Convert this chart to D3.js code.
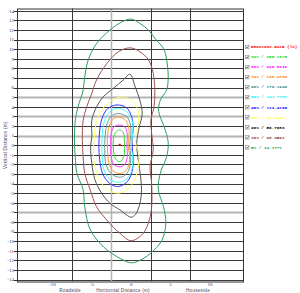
<!DOCTYPE html>
<html>
<head>
<meta charset="utf-8">
<script src="https://cdn.jsdelivr.net/npm/d3@7"></script>
<style>
	body { margin: 0; background: #fff; }
	svg { display: block; }
</style>
</head>
<body>
<div id="isolux-chart"></div>
<script>
//Tick values for both axis
var yTicks = d3.range(-14, 15);
var xTicks = [-10, -5, 0, 5, 10];
var xGrid = [-7.5, -2.5, 2.5, 7.5];
var greyRows = [5, 3, 1, -7];
var greyCols = [-2.5];

//Legend labels, top to bottom
var legendLabels = ["Emax=283.5415 (lx)", "90% / 255.1875", "80% / 226.8332", "70% / 198.4790",
	"60% / 170.1240", "50% / 141.7707", "40% / 113.4166", "30% / 85.0624",
	"20% / 56.7083", "10% / 28.3541", "5% / 14.1771"];
var legendColors = ["#ff0000", "#22dd22", "#ff00ff", "#ff8000", "#407f7f", "#22eeee",
	"#0000ff", "#ffff40", "#000000", "#993333", "#1f9a4a"];

//Point of max illuminance
var emaxPoint = [-1.45, 0.05];

//Isolux lines, outer to inner [x, y] in metres
var iso5 = [[0,13.15],[1.1,12.7],[2.2,12.0],[3.2,10.95],[4.1,10.1],[4.5,8.9],[4.7,7.1],[4.5,5.75],
	[3.7,4.7],[3.5,3.5],[4.2,1.9],[4.7,0.3],[4.5,-1.2],[3.7,-2.9],[3.45,-4.65],[4.1,-6.4],[4.4,-8.1],
	[3.9,-9.9],[2.4,-11.3],[1.1,-12.0],[0,-12.25],[-1.4,-11.8],[-3.5,-10.6],[-5.2,-8.8],[-5.9,-6.4],
	[-6.1,-4.65],[-6.9,-2.9],[-7.1,-1.2],[-7.2,0.3],[-7.1,2.6],[-6.75,4.0],[-6.1,5.75],[-5.9,7.1],
	[-5.45,8.9],[-4.4,10.6],[-2.7,12.0],[-1.2,12.85]];
var iso10 = [[-0.15,10.15],[1.1,9.75],[2.2,8.9],[2.8,7.5],[3.0,5.75],[2.9,4.0],[2.5,2.6],[2.6,1.25],
	[2.8,-0.5],[2.4,-2.25],[2.6,-4.0],[2.6,-6.4],[2.3,-7.8],[1.5,-9.2],[0,-9.95],[-1.4,-9.2],[-3.1,-7.8],
	[-4.4,-6.4],[-5.2,-4.65],[-5.9,-2.9],[-6.1,-1.2],[-6.2,0.5],[-6.1,2.6],[-5.65,4.0],[-5.0,5.4],
	[-4.4,6.8],[-3.1,8.5],[-1.6,9.75]];
var iso20 = [[-0.15,7.4],[0.5,6.1],[1.1,4.7],[1.4,3.3],[1.0,1.8],[0.7,0.2],[0.9,-1.55],[1.2,-3.3],
	[1.3,-5.0],[1.0,-6.4],[0.5,-7.25],[0,-7.5],[-1.4,-6.75],[-2.7,-6.05],[-3.75,-5.0],[-4.6,-3.6],
	[-5.0,-1.9],[-5.15,-0.15],[-5.0,0.9],[-5.0,2.6],[-4.4,4.0],[-3.55,5.05],[-2.3,5.9],[-1.0,6.8]];
var iso30 = [[-1.4,5.0],[-0.3,4.85],[0.5,4.3],[0.9,3.5],[0.9,2.3],[0.6,1.2],[0.6,0],[1.0,-0.8],
	[0.9,-2.2],[0.5,-3.5],[-0.5,-4.6],[-1.6,-5.0],[-2.9,-4.7],[-3.9,-3.8],[-4.5,-2.6],[-4.8,-1],
	[-4.7,0.5],[-4.5,2.2],[-3.8,3.6],[-2.6,4.6]];
var iso40 = [[-1.8,4.2],[-0.6,3.9],[0.05,3.0],[0.25,1.7],[0.1,0.5],[0.2,-0.8],[0.2,-2.4],[-0.4,-3.7],
	[-1.6,-4.3],[-2.7,-4.0],[-3.6,-3.0],[-4.0,-1.5],[-4.1,0],[-4.0,1.5],[-3.7,2.8],[-3.0,3.8]];
var iso50 = [[-1.7,3.85],[-0.6,3.5],[0.1,2.6],[0.2,1.2],[0.0,0],[0.2,-1.5],[-0.1,-3.0],[-0.9,-3.7],
	[-1.8,-3.85],[-2.8,-3.5],[-3.5,-2.5],[-3.7,-1],[-3.7,0.8],[-3.4,2.5],[-2.7,3.5]];
var iso60 = [[-1.6,3.3],[-0.6,3.0],[-0.1,2.2],[-0.05,1.0],[-0.2,0],[-0.05,-1.2],[-0.3,-2.6],[-1.0,-3.25],
	[-1.8,-3.3],[-2.6,-2.9],[-3.2,-2.0],[-3.35,-0.8],[-3.3,1.0],[-3.0,2.4],[-2.4,3.1]];
var iso70 = [[-1.6,2.95],[-0.7,2.6],[-0.3,1.8],[-0.3,0.8],[-0.4,0],[-0.2,-1.2],[-0.4,-2.3],[-1.0,-2.85],
	[-1.8,-2.9],[-2.5,-2.5],[-2.9,-1.6],[-3.0,-0.5],[-3.0,1.0],[-2.7,2.2],[-2.2,2.8]];
var iso80 = [[-1.5,2.1],[-0.8,1.9],[-0.5,1.2],[-0.55,0],[-0.5,-1.2],[-0.8,-2.0],[-1.5,-2.25],[-2.2,-2.0],
	[-2.55,-1.2],[-2.6,0],[-2.55,1.2],[-2.2,1.9]];
var iso90 = [[-1.5,1.6],[-1.0,1.3],[-0.85,0.3],[-0.9,-1.0],[-1.2,-1.6],[-1.6,-1.7],[-2.0,-1.4],
	[-2.25,-0.5],[-2.25,0.6],[-2.0,1.3]];

var isoLines = [iso5, iso10, iso20, iso30, iso40, iso50, iso60, iso70, iso80, iso90];
var isoColors = ["#2e9e5e", "#a05252", "#555555", "#ffff70", "#3333ff", "#44ffff", "#6f9a9a",
	"#ff9933", "#ff44ff", "#33dd33"];

var svg = d3.select("#isolux-chart")
	.append("svg")
	.attr("width", 300)
	.attr("height", 293);

//Plot area bounds
var x = d3.scaleLinear()
	.domain([-14.5, 14.2])
	.range([17, 243]);

var y = d3.scaleLinear()
	.domain([-14.2, 14.25])
	.range([281.5, 8.5]);

//Grid rows
svg.selectAll(".gridRow")
	.data(yTicks)
	.enter()
	.append("line")
	.attr("class", "gridRow")
	.attr("x1", x.range()[0])
	.attr("x2", x.range()[1])
	.attr("y1", function(d){ return Math.round(y(d)) + 0.5 })
	.attr("y2", function(d){ return Math.round(y(d)) + 0.5 })
	.attr("stroke", function(d){ return greyRows.includes(d) ? "#b4b4b4" : "#3a3a3a" })
	.attr("stroke-width", function(d){ return greyRows.includes(d) ? 2 : 1 });

//Grid columns
svg.selectAll(".gridCol")
	.data(xGrid)
	.enter()
	.append("line")
	.attr("class", "gridCol")
	.attr("y1", y.range()[0])
	.attr("y2", y.range()[1])
	.attr("x1", function(d){ return Math.round(x(d)) + 0.5 })
	.attr("x2", function(d){ return Math.round(x(d)) + 0.5 })
	.attr("stroke", function(d){ return greyCols.includes(d) ? "#b4b4b4" : "#3a3a3a" })
	.attr("stroke-width", function(d){ return greyCols.includes(d) ? 1.5 : 1 });

//Frame
svg.append("rect")
	.attr("x", x.range()[0] + 0.5)
	.attr("y", y.range()[1] + 0.5)
	.attr("width", x.range()[1] - x.range()[0])
	.attr("height", y.range()[0] - y.range()[1])
	.attr("fill", "none")
	.attr("stroke", "#333")
	.attr("stroke-width", 1);

//Y axis ticks and labels
svg.selectAll(".yTick")
	.data(yTicks)
	.enter()
	.append("line")
	.attr("class", "yTick")
	.attr("x1", x.range()[0] - 3)
	.attr("x2", x.range()[0])
	.attr("y1", function(d){ return Math.round(y(d)) + 0.5 })
	.attr("y2", function(d){ return Math.round(y(d)) + 0.5 })
	.attr("stroke", "#333");

svg.selectAll(".yLabel")
	.data(yTicks)
	.enter()
	.append("text")
	.attr("class", "yLabel")
	.attr("x", x.range()[0] - 3)
	.attr("y", function(d){ return y(d) })
	.attr("dy", "0.35em")
	.style("text-anchor", "end")
	.style("font-family", "Liberation Serif")
	.style("font-size", "5px")
	.style("fill", "#333366")
	.text(function(d){ return d });

//X axis labels
svg.selectAll(".xLabel")
	.data(xTicks)
	.enter()
	.append("text")
	.attr("class", "xLabel")
	.attr("x", function(d){ return x(d) })
	.attr("y", 285.5)
	.style("text-anchor", "middle")
	.style("font-family", "Liberation Serif")
	.style("font-size", "5px")
	.style("fill", "#333366")
	.text(function(d){ return d });

//Axis titles
var titleStyle = function(sel)
{
	sel.style("font-family", "Liberation Sans")
		.style("font-size", "4.6px")
		.style("letter-spacing", "0.25px")
		.style("fill", "#444466")
		.style("text-anchor", "middle");
};

svg.append("text").attr("x", 70).attr("y", 292).call(titleStyle).text("Roadside");
svg.append("text").attr("x", 123).attr("y", 292).call(titleStyle).text("Horizontal Distance (m)");
svg.append("text").attr("x", 198).attr("y", 292).call(titleStyle).text("Houseside");
svg.append("text")
	.attr("transform", "translate(7," + y(0) + ") rotate(-90)")
	.call(titleStyle)
	.text("Vertical Distance (m)");

//Isolux lines
var line = d3.line()
	.x(function(d){ return x(d[0]) })
	.y(function(d){ return y(d[1]) })
	.curve(d3.curveCatmullRomClosed.alpha(0.5));

for(var i = 0; i < isoLines.length; i++)
{
	svg.append("path")
		.datum(isoLines[i])
		.attr("class", "isoLine")
		.attr("fill", "none")
		.attr("stroke", isoColors[i])
		.attr("stroke-width", 1)
		.attr("d", line);
}

//Max point
svg.append("rect")
	.attr("x", x(emaxPoint[0]) - 1)
	.attr("y", y(emaxPoint[1]) - 1)
	.attr("width", 2)
	.attr("height", 2)
	.attr("fill", "#ff0000");

//Legend
var legendTop = 46.7, legendStep = 10.05;

var legend = svg.selectAll(".legendItem")
	.data(legendLabels)
	.enter()
	.append("g")
	.attr("class", "legendItem")
	.attr("transform", function(d, i){ return "translate(0," + (legendTop + i * legendStep) + ")" });

legend.append("rect")
	.attr("x", 245.5)
	.attr("y", -1.5)
	.attr("width", 3.5)
	.attr("height", 3.5)
	.attr("fill", "#fff")
	.attr("stroke", "#8a8a8a")
	.attr("stroke-width", 0.6);

legend.append("path")
	.attr("d", "M246.2,0.3 L247,1.3 L248.5,-0.9")
	.attr("fill", "none")
	.attr("stroke", "#222")
	.attr("stroke-width", 0.6);

legend.append("text")
	.attr("x", 251)
	.attr("y", 0)
	.attr("dy", "0.35em")
	.style("font-family", "Liberation Mono")
	.style("font-weight", "bold")
	.style("font-size", "4.3px")
	.style("fill", function(d, i){ return legendColors[i] })
	.text(function(d){ return d });
</script>
</body>
</html>
